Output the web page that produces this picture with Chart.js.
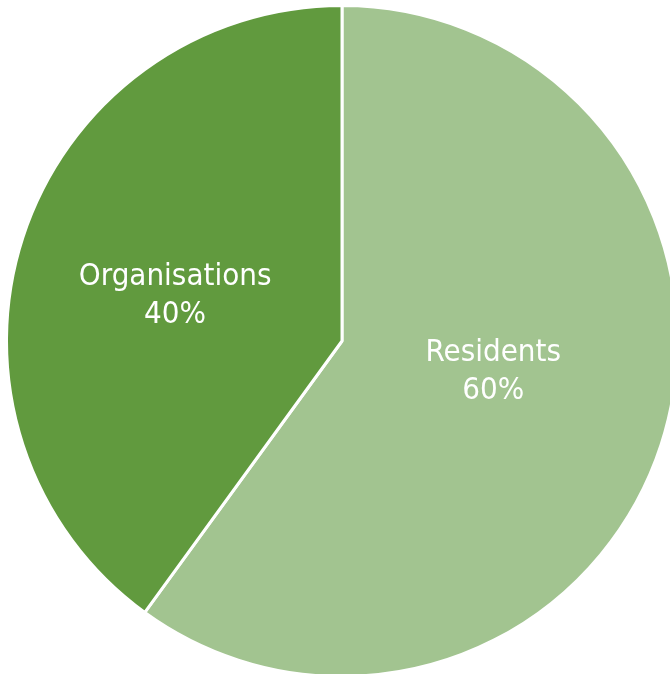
<!DOCTYPE html>
<html><head><meta charset="utf-8">
<script src="https://cdn.jsdelivr.net/npm/chart.js@4/dist/chart.umd.min.js"></script>
<style>
html,body{margin:0;padding:0;background:#fff;overflow:hidden;width:670px;height:674px;}
#wrap{position:absolute;left:5px;top:4px;width:674px;height:674px;}
</style></head>
<body>
<div id="wrap"><canvas id="c"></canvas></div>
<script>
const categories = ["Residents", "Organisations"];
const values = [60, 40];
const percentLabels = ["60%", "40%"];
const colors = ["#A2C490", "#619A3E"];
const labelRadiusFactor = [0.46, 0.515];
const labelAngleShiftDeg = [-6.5, -3];

const labelPlugin = {
  id: 'inlineLabels',
  afterDatasetsDraw(chart) {
    const ctx = chart.ctx;
    const meta = chart.getDatasetMeta(0);
    ctx.save();
    ctx.fillStyle = '#ffffff';
    ctx.font = '31px "DejaVu Sans Condensed", "DejaVu Sans", sans-serif';
    ctx.textAlign = 'center';
    ctx.textBaseline = 'middle';
    meta.data.forEach((arc, i) => {
      const p = arc.getProps(['x','y','startAngle','endAngle','outerRadius'], true);
      const mid = (p.startAngle + p.endAngle) / 2 + labelAngleShiftDeg[i] * Math.PI / 180;
      const r = p.outerRadius * labelRadiusFactor[i];
      const x = p.x + Math.cos(mid) * r;
      const y = p.y + Math.sin(mid) * r;
      ctx.fillText(categories[i], x, y - 19);
      ctx.fillText(percentLabels[i], x, y + 19);
    });
    ctx.restore();
  }
};

new Chart(document.getElementById('c'), {
  type: 'pie',
  data: {
    labels: categories,
    datasets: [{
      data: values,
      backgroundColor: colors,
      borderColor: '#ffffff',
      borderWidth: 3
    }]
  },
  options: {
    responsive: true,
    maintainAspectRatio: false,
    animation: false,
    layout: { padding: 0 },
    plugins: { legend: { display: false }, tooltip: { enabled: false } }
  },
  plugins: [labelPlugin]
});
</script>
</body></html>
